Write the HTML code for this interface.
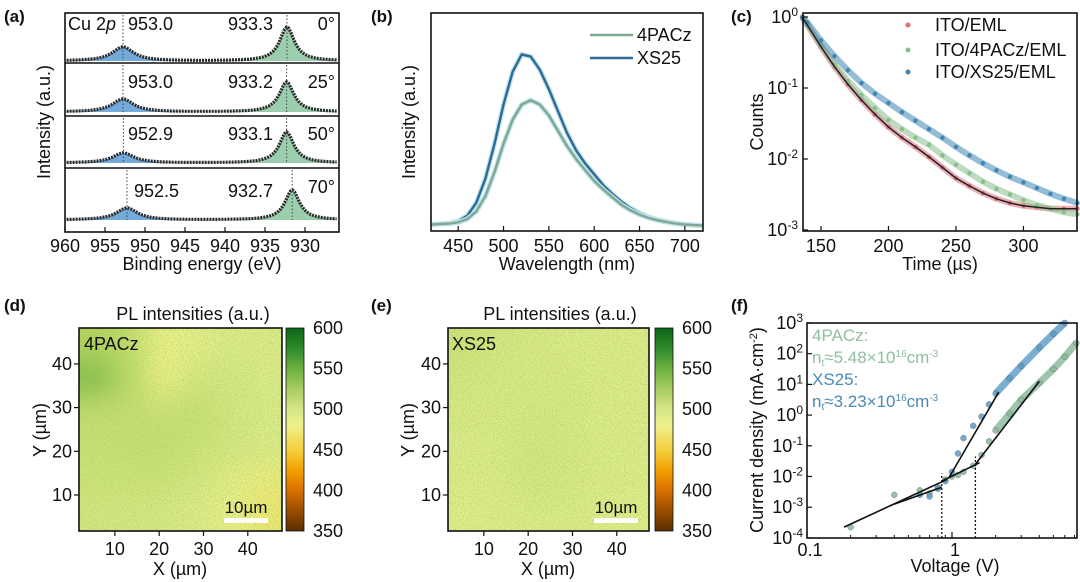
<!DOCTYPE html>
<html><head><meta charset="utf-8">
<style>
html,body{margin:0;padding:0;background:#fff;}
svg{display:block;font-family:"Liberation Sans",Arial,sans-serif;}
.tk{font-size:18px;fill:#111;}
.lb{font-size:18px;fill:#111;}
.pl{font-size:17px;font-weight:bold;fill:#111;}
</style></head>
<body>
<svg id="fig" width="1080" height="582" viewBox="0 0 1080 582" xmlns="http://www.w3.org/2000/svg">
<defs>
<linearGradient id="cmap" x1="0" y1="1" x2="0" y2="0">
<stop offset="0" stop-color="#5a2d00"/><stop offset="0.2" stop-color="#d97000"/><stop offset="0.3" stop-color="#f3a000"/>
<stop offset="0.4" stop-color="#f5d040"/><stop offset="0.52" stop-color="#eef08a"/><stop offset="0.6" stop-color="#d6e68a"/>
<stop offset="0.7" stop-color="#a8cc60"/><stop offset="0.8" stop-color="#6cb040"/><stop offset="0.9" stop-color="#2e8a2a"/><stop offset="1" stop-color="#0b6618"/>
</linearGradient>
<filter id="blur" x="-20%" y="-20%" width="140%" height="140%"><feGaussianBlur stdDeviation="14"/></filter>
<filter id="grain"><feTurbulence type="fractalNoise" baseFrequency="0.9" numOctaves="1" seed="3"/>
<feColorMatrix values="0 0 0 0 0.35  0 0 0 0 0.6  0 0 0 0 0.1  2.2 0 0 0 -1.0"/></filter>
<clipPath id="clipD"><rect x="79" y="328" width="203" height="203"/></clipPath>
<clipPath id="clipE"><rect x="448" y="328" width="201" height="203"/></clipPath>
</defs>

<!-- Panel a -->
<g>
<text x="4" y="22" class="pl">(a)</text>
<g id="aPlot"></g>
<rect x="65" y="13" width="274" height="219" fill="none" stroke="#111" stroke-width="1.6"/>
<text x="68" y="30" class="lb">Cu 2<tspan font-style="italic">p</tspan></text>
<text transform="translate(50,122) rotate(-90)" text-anchor="middle" class="lb">Intensity (a.u.)</text>
<text x="202" y="270" text-anchor="middle" class="lb">Binding energy (eV)</text>
</g>

<!-- Panel b -->
<g>
<text x="371" y="22" class="pl">(b)</text>
<g id="bPlot"></g>
<rect x="431" y="13" width="272" height="218" fill="none" stroke="#111" stroke-width="1.6"/>
<text transform="translate(415,122) rotate(-90)" text-anchor="middle" class="lb">Intensity (a.u.)</text>
<text x="567" y="270" text-anchor="middle" class="lb">Wavelength (nm)</text>
<line x1="590" y1="35" x2="633" y2="35" stroke="#7fa88e" stroke-width="2.5"/>
<text x="637" y="41" class="lb">4PACz</text>
<line x1="590" y1="58" x2="633" y2="58" stroke="#2f6a92" stroke-width="2.5"/>
<text x="637" y="64" class="lb">XS25</text>
</g>

<!-- Panel c -->
<g>
<text x="731" y="22" class="pl">(c)</text>
<g id="cPlot"></g>
<rect x="803" y="13" width="274" height="218" fill="none" stroke="#111" stroke-width="1.6"/>
<text transform="translate(763,122) rotate(-90)" text-anchor="middle" class="lb">Counts</text>
<text x="940" y="270" text-anchor="middle" class="lb">Time (µs)</text>
<circle cx="908" cy="25" r="2.5" fill="#d9707a"/>
<text x="935" y="31" class="lb">ITO/EML</text>
<circle cx="908" cy="50" r="2.5" fill="#86c08a"/>
<text x="935" y="56" class="lb">ITO/4PACz/EML</text>
<circle cx="908" cy="72" r="2.5" fill="#3f86b5"/>
<text x="935" y="78" class="lb">ITO/XS25/EML</text>
</g>

<!-- Panel d -->
<g>
<text x="4" y="311" class="pl">(d)</text>
<text x="193" y="320" text-anchor="middle" class="lb">PL intensities (a.u.)</text>
<rect x="79" y="328" width="203" height="203" fill="#c6da72"/>
<g clip-path="url(#clipD)"><g id="dCells" filter="url(#blur)"></g>
<rect x="79" y="328" width="203" height="203" filter="url(#grain)"/></g>
<rect x="79" y="328" width="203" height="203" fill="none" stroke="#111" stroke-width="1.6"/>
<text x="84" y="350" class="lb">4PACz</text>
<rect x="224" y="518" width="44" height="5" fill="#fff"/>
<text x="246" y="513" text-anchor="middle" font-size="17" fill="#111">10µm</text>
<rect x="286" y="328" width="18" height="203" fill="url(#cmap)" stroke="#111" stroke-width="0.8"/>
<text transform="translate(46,430) rotate(-90)" text-anchor="middle" class="lb">Y (µm)</text>
<text x="180" y="575" text-anchor="middle" class="lb">X (µm)</text>
<g id="dAxes"></g>
</g>

<!-- Panel e -->
<g>
<text x="371" y="311" class="pl">(e)</text>
<text x="560" y="320" text-anchor="middle" class="lb">PL intensities (a.u.)</text>
<rect x="448" y="328" width="201" height="203" fill="#cadc78"/>
<g clip-path="url(#clipE)"><g id="eCells" filter="url(#blur)"></g>
<rect x="448" y="328" width="201" height="203" filter="url(#grain)"/></g>
<rect x="448" y="328" width="201" height="203" fill="none" stroke="#111" stroke-width="1.6"/>
<text x="452" y="350" class="lb">XS25</text>
<rect x="594" y="518" width="44" height="5" fill="#fff"/>
<text x="616" y="513" text-anchor="middle" font-size="17" fill="#111">10µm</text>
<rect x="655" y="328" width="18" height="203" fill="url(#cmap)" stroke="#111" stroke-width="0.8"/>
<text transform="translate(414,430) rotate(-90)" text-anchor="middle" class="lb">Y (µm)</text>
<text x="548" y="575" text-anchor="middle" class="lb">X (µm)</text>
<g id="eAxes"></g>
</g>

<!-- Panel f -->
<g>
<text x="731" y="311" class="pl">(f)</text>
<g id="fPlot"></g>
<rect x="807" y="323" width="270" height="215" fill="none" stroke="#111" stroke-width="1.6"/>
<text transform="translate(763,430) rotate(-90)" text-anchor="middle" class="lb">Current density (mA·cm<tspan dy="-6" font-size="11">-2</tspan><tspan dy="6">)</tspan></text>
<text x="955" y="572" text-anchor="middle" class="lb">Voltage (V)</text>
<text x="812" y="341" font-size="17" fill="#8fbf9f">4PACz:</text>
<text x="812" y="363" font-size="17" fill="#8fbf9f">n<tspan font-size="10" dy="3">t</tspan><tspan dy="-3">≈5.48×10</tspan><tspan font-size="10" dy="-6">16</tspan><tspan dy="6">cm</tspan><tspan font-size="10" dy="-6">-3</tspan></text>
<text x="812" y="385" font-size="17" fill="#4a8ab5">XS25:</text>
<text x="812" y="407" font-size="17" fill="#4a8ab5">n<tspan font-size="10" dy="3">t</tspan><tspan dy="-3">≈3.23×10</tspan><tspan font-size="10" dy="-6">16</tspan><tspan dy="6">cm</tspan><tspan font-size="10" dy="-6">-3</tspan></text>
</g>
</svg>

<script>
// ---------- data ----------
// (a) XPS
const aAngles = ["0°","25°","50°","70°"];
const aPeak1Pos = [952.75, 952.75, 952.7, 952.25];
const aPeak2Pos = [932.25, 932.3, 932.3, 931.6];
const aPeak1H = [14, 13, 10, 12];
const aPeak2H = [34, 30, 31, 30];
const aLabel1 = ["953.0","953.0","952.9","952.5"];
const aLabel2 = ["933.3","933.2","933.1","932.7"];
const aXTicks = [960,955,950,945,940,935,930];
// (b) PL spectra
const bWave = [420,430,440,450,460,470,480,490,500,510,520,530,540,550,560,570,580,590,600,610,620,630,640,650,660,670,680,690,700,710,720];
const bXS25 = [.03,.032,.035,.045,.07,.13,.24,.40,.58,.73,.81,.80,.74,.65,.55,.45,.37,.31,.26,.21,.17,.135,.105,.082,.065,.052,.043,.036,.031,.027,.025];
const b4PACz = [.03,.032,.034,.04,.055,.09,.16,.27,.40,.51,.58,.60,.58,.53,.46,.39,.33,.28,.23,.19,.155,.12,.095,.075,.06,.049,.041,.034,.03,.027,.025];
const bXTicks = [450,500,550,600,650,700];
// (c) TRPL (log10 counts)
const cTime = [136,140,150,160,170,180,190,200,210,220,230,240,250,260,270,280,290,300,310,320,330,340];
const cEML = [0,-0.12,-0.42,-0.7,-0.95,-1.17,-1.37,-1.55,-1.7,-1.83,-1.97,-2.12,-2.27,-2.38,-2.48,-2.56,-2.62,-2.66,-2.68,-2.7,-2.7,-2.7];
const c4PACz = [0,-0.11,-0.40,-0.67,-0.9,-1.1,-1.28,-1.45,-1.58,-1.7,-1.8,-1.95,-2.08,-2.2,-2.32,-2.42,-2.5,-2.58,-2.65,-2.7,-2.75,-2.78];
const cXS25 = [0,-0.08,-0.33,-0.55,-0.75,-0.93,-1.08,-1.21,-1.34,-1.46,-1.58,-1.7,-1.83,-1.95,-2.06,-2.16,-2.25,-2.33,-2.41,-2.49,-2.56,-2.62];
const cXTicks = [150,200,250,300];
const cYTicks = [0,-1,-2,-3];
// (d)(e) PL maps, rows top->bottom
const dGrid = [[528,520,480,488,500,498],[548,522,478,505,505,500],[518,515,512,515,505,500],[512,515,515,510,505,500],[510,510,510,505,490,475],[505,505,503,498,485,470]];
const eGrid = [[510,505,502,500,500,498],[505,503,502,502,500,498],[502,502,504,503,500,498],[500,500,506,504,500,498],[498,500,506,504,500,497],[495,497,500,500,498,495]];
const mapTicks = [10,20,30,40];
const cbarTicks = [600,550,500,450,400,350];
// (f) SCLC (log10 J)
const fV_XS = [0.6,0.7,0.8,0.9,1.0,1.1,1.2,1.4,1.6,1.8,2.0,2.5,3.0,4.0,5.0,6.0];
const fJ_XS = [-2.6,-2.65,-2.4,-2.15,-1.85,-1.25,-0.75,-0.35,-0.05,0.35,0.7,1.2,1.6,2.2,2.65,3.0];
const fV_PA = [0.2,0.4,0.6,0.7,0.8,0.9,1.0,1.1,1.2,1.4,1.6,1.8,2.0,2.5,3,4,5,6,7.2];
const fJ_PA = [-3.65,-2.6,-2.45,-2.55,-2.35,-2.1,-2.0,-1.95,-1.85,-1.65,-1.3,-0.85,-0.5,0.05,0.5,1.05,1.5,1.9,2.35];
const fFitV1 = [0.18,0.4,0.95,0.85,1.45];
const fFitV2 = [0.92,0.85,2.1,1.55,4.0];
const fFitJ1 = [-3.65,-2.9,-2.05,-2.15,-1.6];
const fFitJ2 = [-2.1,-2.35,0.75,-1.55,1.1];
const fXTicks = [0.1,1];
const fYTicks = [3,2,1,0,-1,-2,-3,-4];

// ---------- helpers ----------
const NS="http://www.w3.org/2000/svg";
function mk(tag, attrs, parent){const e=document.createElementNS(NS,tag);for(const k in attrs)e.setAttribute(k,attrs[k]);parent.appendChild(e);return e;}
function txt(s, attrs, parent){const e=mk('text',attrs,parent);e.textContent=s;return e;}

// ---------- (a) ----------
const aG=document.getElementById('aPlot');
const ax=E=>65+(960-E)*8;
const rowTop=[13,63,116,168], rowBase=[61,112,163,220], rowTxt=[30,88,140,197];
function lor(E,p,w){return 1/(1+((E-p)/w)**2);}
for(let r=0;r<4;r++){
  let pts1=[],pts2=[],tot=[];
  for(let E=959.8;E>=926;E-=0.25){
    const v1=aPeak1H[r]*lor(E,aPeak1Pos[r],1.6), v2=aPeak2H[r]*lor(E,aPeak2Pos[r],1.1);
    pts1.push(ax(E)+','+(rowBase[r]-v1).toFixed(1));
    pts2.push(ax(E)+','+(rowBase[r]-v2).toFixed(1));
    tot.push(ax(E)+','+(rowBase[r]-v1-v2).toFixed(1));
  }
  const f1=mk('polygon',{points:ax(959.8)+','+rowBase[r]+' '+pts1.join(' ')+' '+ax(926)+','+rowBase[r],fill:'#5b9bd5','fill-opacity':0.85},aG);
  
  
  const f2=mk('polygon',{points:ax(959.8)+','+rowBase[r]+' '+pts2.join(' ')+' '+ax(926)+','+rowBase[r],fill:'#8fc9a3','fill-opacity':0.9},aG);
  
  
  const ln=mk('polyline',{points:tot.join(' '),fill:'none',stroke:'#2a2a2a','stroke-width':3.2,'stroke-dasharray':'2 1'},aG);
  
  
  const d1=mk('line',{x1:ax(aPeak1Pos[r]),x2:ax(aPeak1Pos[r]),y1:rowTop[r]+2,y2:rowBase[r],stroke:'#444','stroke-dasharray':'1.5 2'},aG);
  
  
  const d2=mk('line',{x1:ax(aPeak2Pos[r]),x2:ax(aPeak2Pos[r]),y1:rowTop[r]+2,y2:rowBase[r],stroke:'#444','stroke-dasharray':'1.5 2'},aG);
  
  
  const t1=txt(aLabel1[r],{x:r==3?134:128,y:rowTxt[r],class:'lb'},aG);
  
  
  const t2=txt(aLabel2[r],{x:273,y:rowTxt[r],'text-anchor':'end',class:'lb'},aG);
  
  
  const t3=txt(aAngles[r],{x:335,y:r==3?193:rowTxt[r],'text-anchor':'end',class:'lb'},aG);
  
  
  if(r>0){const s=mk('line',{x1:65,x2:339,y1:rowTop[r],y2:rowTop[r],stroke:'#111','stroke-width':1.4},aG);
  
  }
}
aXTicks.forEach(v=>{
  const t=mk('line',{x1:ax(v),x2:ax(v),y1:232,y2:227,stroke:'#111','stroke-width':1.2},aG);
  
  
  const l=txt(String(v),{x:ax(v),y:252,'text-anchor':'middle',class:'tk'},aG);
  
  
});

// ---------- (b) ----------
const bG=document.getElementById('bPlot');
const bx=w=>431+(w-420)*272/300, by=v=>231-v*218;
function bLine(arr,col,name){
  const p=bWave.map((w,i)=>bx(w).toFixed(1)+','+by(arr[i]).toFixed(1)).join(' ');
  const h=mk('polyline',{points:p,fill:'none',stroke:'#bfe3f0','stroke-width':5},bG);
  
  
  const l=mk('polyline',{points:p,fill:'none',stroke:col,'stroke-width':2.4,'stroke-linejoin':'round'},bG);
  
  
}
bLine(bXS25,'#2f6a92','series-xs25');
bLine(b4PACz,'#7fa88e','series-4pacz');
bXTicks.forEach(v=>{
  const t=mk('line',{x1:bx(v),x2:bx(v),y1:231,y2:226,stroke:'#111','stroke-width':1.2},bG);
  
  
  const l=txt(String(v),{x:bx(v),y:252,'text-anchor':'middle',class:'tk'},bG);
  
  
});

// ---------- (c) ----------
const cG=document.getElementById('cPlot');
const cx=t=>803+(t-136.7)*1.35, cy=l=>17-l*71;
function cSeries(arr,col,name){
  const p=cTime.map((t,i)=>cx(t).toFixed(1)+','+cy(arr[i]).toFixed(1)).join(' ');
  const l=mk('polyline',{points:p,fill:'none',stroke:col,'stroke-width':6,'stroke-opacity':0.55,'stroke-linejoin':'round'},cG);
  
  
  cTime.forEach((t,i)=>{
    const c=mk('circle',{cx:cx(t),cy:cy(arr[i]),r:2.2,fill:col},cG);
    
    
  });
}
cSeries(cEML,'#d9707a','series-ito-eml');
cSeries(c4PACz,'#86c08a','series-ito-4pacz-eml');
cSeries(cXS25,'#3f86b5','series-ito-xs25-eml');
const fitP=cTime.map((t,i)=>cx(t).toFixed(1)+','+cy(cEML[i]).toFixed(1)).join(' ');
const cfit=mk('polyline',{points:fitP,fill:'none',stroke:'#222','stroke-width':1.5},cG);


cXTicks.forEach(v=>{
  const t=mk('line',{x1:cx(v),x2:cx(v),y1:231,y2:226,stroke:'#111','stroke-width':1.2},cG);
  
  
  const l=txt(String(v),{x:cx(v),y:252,'text-anchor':'middle',class:'tk'},cG);
  
  
});
cYTicks.forEach(v=>{
  const t=mk('line',{x1:803,x2:808,y1:cy(v),y2:cy(v),stroke:'#111','stroke-width':1.2},cG);
  
  
  const l=mk('text',{x:798,y:cy(v)+6,'text-anchor':'end',class:'tk'},cG);
  l.innerHTML='10<tspan dy="-7" font-size="12">'+v+'</tspan>';
  
  
});

// ---------- (d)(e) ----------
const stops=[[350,[90,45,0]],[400,[217,112,0]],[425,[243,160,0]],[450,[245,208,64]],[480,[240,242,140]],[500,[222,235,140]],[525,[185,215,100]],[550,[120,182,70]],[575,[46,138,42]],[600,[11,102,24]]];
function cmap(v){for(let i=0;i<stops.length-1;i++){const a=stops[i],b=stops[i+1];if(v<=b[0]){const t=Math.max(0,(v-a[0])/(b[0]-a[0]));return 'rgb('+a[1].map((c,k)=>Math.round(c+(b[1][k]-c)*t)).join(',')+')';}}return 'rgb(11,102,24)';}
function heat(gid,grid,x0,w,name){
  const g=document.getElementById(gid), n=grid.length, cw=w/n, ch=203/n;
  grid.forEach((row,r)=>row.forEach((v,c)=>{
    const e=mk('rect',{x:x0+c*cw-(c==0?20:0),y:328+r*ch-(r==0?20:0),width:cw+(c==0||c==n-1?20:0)+0.5,height:ch+(r==0||r==n-1?20:0)+0.5,fill:cmap(v)},g);
    
    
  }));
}
heat('dCells',dGrid,79,203,'heatmap-d');
heat('eCells',eGrid,448,201,'heatmap-e');
function mapAxes(gid,x0,cb,name){
  const g=document.getElementById(gid);
  const mx=v=>x0+(v-1.9)*4.43, my=v=>495-(v-10)*4.37;
  mapTicks.forEach(v=>{
    const t=mk('line',{x1:mx(v),x2:mx(v),y1:531,y2:536,stroke:'#111','stroke-width':1.2},g);
    
    
    const l=txt(String(v),{x:mx(v),y:555,'text-anchor':'middle',class:'tk'},g);
    
    
    const t2=mk('line',{x1:x0,x2:x0-5,y1:my(v),y2:my(v),stroke:'#111','stroke-width':1.2},g);
    
    
    const l2=txt(String(v),{x:x0-7,y:my(v)+6,'text-anchor':'end',class:'tk'},g);
    
    
  });
  cbarTicks.forEach(v=>{
    const y=328+(600-v)*203/250;
    const l=txt(String(v),{x:cb+27,y:y+6,class:'tk'},g);
    
    
  });
}
mapAxes('dAxes',79,286,'map-d');
mapAxes('eAxes',448,655,'map-e');

// ---------- (f) ----------
const fG=document.getElementById('fPlot');
const fx=v=>807+145*Math.log10(v/0.1), fy=l=>323+(3-l)*30.7;
function fSeries(V,J,col,name){
  const p=V.map((v,i)=>fx(v).toFixed(1)+','+fy(J[i]).toFixed(1));
  const hi=V.map((v,i)=>v>=2?p[i]:null).filter(x=>x);
  if(hi.length){const l=mk('polyline',{points:hi.join(' '),fill:'none',stroke:col,'stroke-width':7,'stroke-opacity':0.8},fG);
  
  }
  V.forEach((v,i)=>{
    const c=mk('circle',{cx:fx(v),cy:fy(J[i]),r:3,fill:col,'fill-opacity':0.85,stroke:'#555','stroke-width':0.3},fG);
    
    
  });
}
fSeries(fV_PA,fJ_PA,'#86b898','series-4pacz-jv');
fSeries(fV_XS,fJ_XS,'#5a9ac8','series-xs25-jv');
fFitV1.forEach((v,i)=>{
  const l=mk('line',{x1:fx(v),y1:fy(fFitJ1[i]),x2:fx(fFitV2[i]),y2:fy(fFitJ2[i]),stroke:'#111','stroke-width':1.6},fG);
  
  
});
[[0.85,-1.9],[1.45,-1.35]].forEach(([v,j])=>{
  const l=mk('line',{x1:fx(v),x2:fx(v),y1:538,y2:fy(j),stroke:'#111','stroke-width':1.3,'stroke-dasharray':'2 2'},fG);
  
  
});
fXTicks.forEach(v=>{
  const t=mk('line',{x1:fx(v),x2:fx(v),y1:538,y2:532,stroke:'#111','stroke-width':1.2},fG);
  
  
  const l=txt(String(v),{x:fx(v)+3,y:556,'text-anchor':'middle',class:'tk'},fG);
  
  
});
for(let d=0.1;d<10;d*=10){for(let k=2;k<10;k++){const v=d*k;if(fx(v)<1077){
  const t=mk('line',{x1:fx(v),x2:fx(v),y1:538,y2:535,stroke:'#111','stroke-width':1},fG);
  
  }}}
fYTicks.forEach(v=>{
  const t=mk('line',{x1:807,x2:812,y1:fy(v),y2:fy(v),stroke:'#111','stroke-width':1.2},fG);
  
  
  const l=mk('text',{x:803,y:fy(v)+6,'text-anchor':'end',class:'tk'},fG);
  l.innerHTML='10<tspan dy="-7" font-size="12">'+v+'</tspan>';
  
  
});
</script>
</body></html>
